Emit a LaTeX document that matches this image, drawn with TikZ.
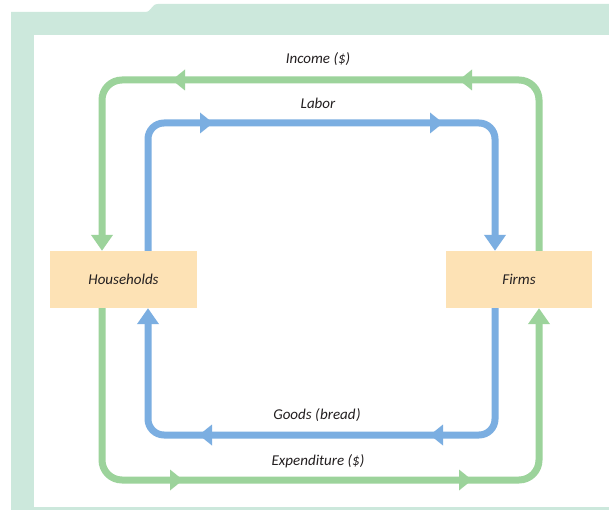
\documentclass[tikz,border=0pt]{standalone}
\usepackage{fontspec}
\setmainfont{Carlito}
\usetikzlibrary{arrows.meta}
\definecolor{bandc}{HTML}{CCE8DC}
\definecolor{gflow}{HTML}{9CD39B}
\definecolor{bflow}{HTML}{7BAEE1}
\definecolor{boxc}{HTML}{FDE2B5}
\definecolor{txt}{HTML}{231F20}
\begin{document}
\begin{tikzpicture}[x=1pt,y=-1pt,
  agent/.style={fill=boxc,minimum width=147pt,minimum height=57pt,inner sep=0pt,font=\fontsize{15}{17}\selectfont\itshape,text=txt},
  flowlabel/.style={font=\fontsize{15}{17}\selectfont\itshape,text=txt},
  gline/.style={draw=gflow,line width=7pt,rounded corners=20pt},
  bline/.style={draw=bflow,line width=7pt,rounded corners=16pt},
  gtip/.style={-{Triangle[length=16pt,width=21pt]}},
  midtip/.pic={\fill (0,0) -- (-13,-10.5) -- (-13,10.5) -- cycle;}
]
\useasboundingbox (0,0) rectangle (609,510);
\fill[white] (0,0) rectangle (609,510);
% frame
\fill[bandc] (11,510) -- (11,12) -- (145,12) .. controls (152,12) and (151,4) .. (158,4) -- (609,4) -- (609,510) -- cycle;
\fill[white] (34,35) rectangle (609,507);
% nodes
\node[agent] (hh) at (123.5,279.5) {Households};
\node[agent,minimum width=146pt] (firms) at (519,279.5) {Firms};
\coordinate (gtop) at (0,80);
\coordinate (btop) at (0,123);
\coordinate (gbot) at (0,480);
\coordinate (bbot) at (0,435);
\coordinate (gF) at ([xshift=20pt]firms.north);
\coordinate (gFs) at ([xshift=20pt]firms.south);
\coordinate (bF) at ([xshift=-24pt]firms.north);
\coordinate (bFs) at ([xshift=-24pt]firms.south);
\coordinate (gH) at ([xshift=-21.5pt]hh.north);
\coordinate (gHs) at ([xshift=-21.5pt]hh.south);
\coordinate (bH) at ([xshift=24.5pt]hh.north);
\coordinate (bHs) at ([xshift=24.5pt]hh.south);
% income (green, top)
\draw[gline,gtip,gflow] (gF) -- (gF |- gtop) -- (gH |- gtop) -- (gH);
% labor (blue, top)
\draw[bline,gtip,bflow] (bH) -- (bH |- btop) -- (bF |- btop) -- (bF);
% goods (blue, bottom)
\draw[bline,gtip,bflow] (bFs) -- (bFs |- bbot) -- (bHs |- bbot) -- (bHs);
% expenditure (green, bottom)
\draw[gline,gtip,gflow] (gHs) -- (gHs |- gbot) -- (gFs |- gbot) -- (gFs);
% mid arrows
\pic[gflow,rotate=180] at (172,80) {midtip};
\pic[gflow,rotate=180] at (459,80) {midtip};
\pic[bflow] at (213,123) {midtip};
\pic[bflow] at (443,123) {midtip};
\pic[bflow,rotate=180] at (199,435) {midtip};
\pic[bflow,rotate=180] at (430,435) {midtip};
\pic[gflow] at (183,480) {midtip};
\pic[gflow] at (472,480) {midtip};
% labels
\node[flowlabel] (lincome) at (318,59) {Income (\$)};
\node[flowlabel] (llabor) at (318,103) {Labor};
\node[flowlabel] (lgoods) at (317,415) {Goods (\kern0.5pt bread\kern0.5pt)};
\node[flowlabel] (lexp) at (318,461) {Expenditure (\$)};
\end{tikzpicture}
\end{document}
